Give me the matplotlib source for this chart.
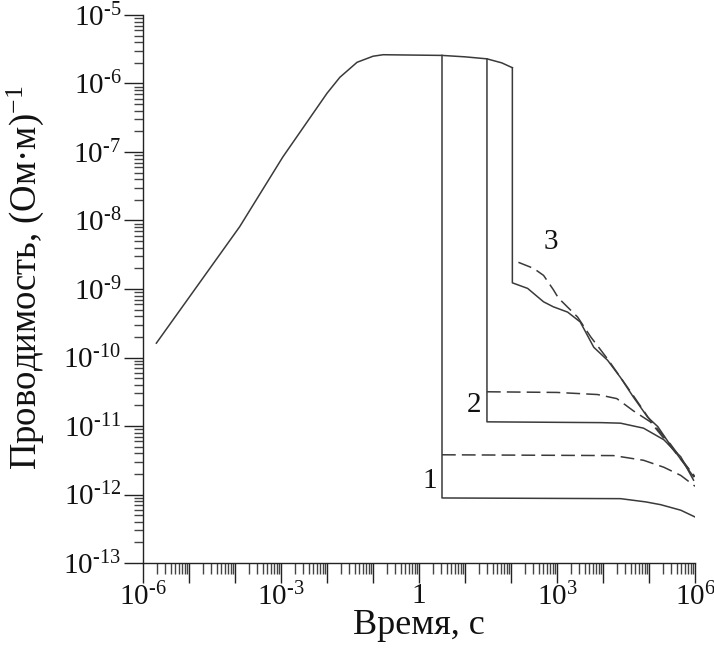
import numpy as np
import matplotlib
matplotlib.use('Agg')
import matplotlib.pyplot as plt
from matplotlib.ticker import LogLocator, FuncFormatter, NullFormatter

plt.rcParams['font.family'] = ['Liberation Serif', 'DejaVu Serif']
plt.rcParams['mathtext.fontset'] = 'custom'
plt.rcParams['mathtext.rm'] = 'Liberation Serif'
plt.rcParams['mathtext.it'] = 'Liberation Serif:italic'

# common rise + plateau
t_common = [1.95e-6, 1.26e-4, 1.1e-3, 1.0e-2, 1.9e-2, 4.5e-2, 0.1, 0.166, 3.16, 10, 30, 63, 107]
g_common = [1.62e-10, 8.1e-9, 8.5e-8, 7.2e-7, 1.23e-6, 2.04e-6, 2.5e-6, 2.63e-6, 2.57e-6, 2.45e-6,
            2.29e-6, 2.0e-6, 1.7e-6]

# curve 1
t1_solid = [3.16, 3.16, 2.4e4, 8.5e4, 1.8e5, 4.9e5, 1.0e6]
g1_solid = [2.57e-6, 8.9e-13, 8.7e-13, 7.8e-13, 7.1e-13, 5.9e-13, 4.7e-13]
t1_dash = [3.16, 1.7e4, 7.6e4, 2.1e5, 4.9e5, 1.0e6]
g1_dash = [3.8e-12, 3.7e-12, 3.16e-12, 2.5e-12, 1.9e-12, 1.32e-12]

# curve 2
t2_solid = [30, 30, 9.1e3, 2.4e4, 7.6e4, 2.1e5, 4.9e5, 9.3e5]
g2_solid = [2.29e-6, 1.15e-11, 1.12e-11, 1.10e-11, 9.3e-12, 6.3e-12, 3.55e-12, 1.62e-12]
t2_dash = [30, 1.0e3, 7.6e3, 2.0e4, 4.6e4, 1.07e5, 2.95e5, 1.0e6]
g2_dash = [3.16e-11, 3.09e-11, 2.88e-11, 2.51e-11, 1.66e-11, 1.15e-11, 5.0e-12, 1.82e-12]

# curve 3
t3_solid = [107, 107, 230, 510, 830, 1.7e3, 3.2e3, 6.3e3, 1.26e4, 2.4e4, 4.6e4, 9.3e4, 1.55e5,
            2.95e5, 9.3e5]
g3_solid = [1.7e-6, 1.23e-9, 1.02e-9, 6.5e-10, 5.5e-10, 4.6e-10, 3.3e-10, 1.41e-10, 9.1e-11,
            5.1e-11, 2.63e-11, 1.35e-11, 9.8e-12, 5.2e-12, 1.82e-12]
t3_dash = [145, 310, 510, 830, 1.07e3, 2.8e3, 5.4e3, 1.26e4, 4.6e4, 1.07e5, 2.95e5, 9.3e5]
g3_dash = [2.45e-9, 2.0e-9, 1.58e-9, 9.8e-10, 7.4e-10, 3.9e-10, 2.0e-10, 9.5e-11, 2.75e-11,
           1.2e-11, 5.4e-12, 1.9e-12]

curve_labels = ['1', '2', '3']
label_t = [1.74, 16, 720]
label_g = [1.6e-12, 2.0e-11, 4.9e-9]

fig = plt.figure(figsize=(7.14, 6.49), dpi=100)
ax = fig.add_axes([0.2003, 0.1325, 0.7731, 0.8444])

col = '#3a3a3a'
lw = 1.1
ax.plot(t_common, g_common, color=col, lw=lw)
for t, g in [(t1_solid, g1_solid), (t2_solid, g2_solid), (t3_solid, g3_solid)]:
    ax.plot(t, g, color=col, lw=lw)
for t, g in [(t1_dash, g1_dash), (t2_dash, g2_dash), (t3_dash, g3_dash)]:
    ax.plot(t, g, color=col, lw=lw, dashes=(9, 4))

for s, x, y in zip(curve_labels, label_t, label_g):
    ax.text(x, y, s, fontsize=21, ha='center', va='center', color='#111111')

ax.set_xscale('log')
ax.set_yscale('log')
ax.set_xlim(1e-6, 1e6)
ax.set_ylim(1e-13, 1e-5)


def xfmt(v, pos):
    e = int(round(np.log10(v)))
    if e % 3 != 0:
        return ''
    if e == 0:
        return '1'
    return r'$10^{\text{%d}}$' % e


def yfmt(v, pos):
    e = int(round(np.log10(v)))
    return r'$10^{\text{%d}}$' % e


ax.xaxis.set_major_locator(LogLocator(base=10, numticks=30))
ax.xaxis.set_minor_locator(LogLocator(base=10, subs=np.arange(2, 10), numticks=30))
ax.yaxis.set_major_locator(LogLocator(base=10, numticks=30))
ax.yaxis.set_minor_locator(LogLocator(base=10, subs=np.arange(2, 10), numticks=30))
ax.xaxis.set_major_formatter(FuncFormatter(xfmt))
ax.yaxis.set_major_formatter(FuncFormatter(yfmt))
ax.xaxis.set_minor_formatter(NullFormatter())
ax.yaxis.set_minor_formatter(NullFormatter())

ax.spines['top'].set_visible(False)
ax.spines['right'].set_visible(False)
for sp in ['left', 'bottom']:
    ax.spines[sp].set_color('#222222')
    ax.spines[sp].set_linewidth(1.0)

ax.tick_params(axis='x', which='major', direction='out', length=14.4, width=1, colors='#222222',
               labelsize=21, pad=0, labelcolor='#111111')
ax.tick_params(axis='x', which='minor', direction='out', length=8, width=1, colors='#444444')
ax.tick_params(axis='y', which='major', direction='out', length=13.7, width=1, colors='#222222',
               labelsize=21, pad=2, labelcolor='#111111')
ax.tick_params(axis='y', which='minor', direction='out', length=6.5, width=1, colors='#444444')

ax.set_xlabel('Время, с', fontsize=26, color='#111111', labelpad=-2)
ax.set_ylabel('Проводимость, (Ом·м)$^{-1}$', fontsize=26.5, color='#111111', labelpad=0)
ax.yaxis.set_label_coords(-0.175, 0.52)

fig.savefig('out.png', dpi=100)
